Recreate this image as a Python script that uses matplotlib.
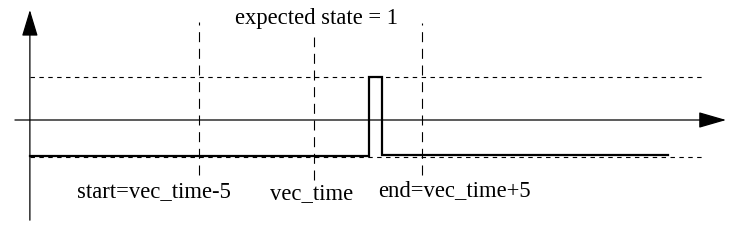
import matplotlib
matplotlib.use("Agg")
import matplotlib.pyplot as plt

plt.rcParams['font.family'] = ['Liberation Serif', 'DejaVu Serif']

# time in units where vec_time = 0, level in state units (1 = expected state)
mark_t = [-5.15, 0.0, 4.85]
mark_top = [2.28, 1.93, 2.26]
mark_bottom = [-1.28, -1.40, -1.28]

signal_t = [-12.74, 2.47, 2.47, 3.05, 3.05, 15.87]
signal_v = [-0.84, -0.84, 1.0, 1.0, -0.81, -0.81]

high_level = 1.0
low_level = -0.86
level_t = [-12.74, 17.5]

labels = ["start=vec_time-5", "vec_time", "end=vec_time+5"]
label_t = [-7.17, -0.11, 6.28]
label_v = [-1.67, -1.70, -1.63]
title_text = "expected state = 1"

fig = plt.figure(figsize=(7.5, 2.44), dpi=100)
ax = fig.add_axes([0, 0, 1, 1])
ax.set_xlim(-14.08, 19.55)
ax.set_ylim(-2.884, 2.791)
ax.axis('off')

# axes with arrow heads
ax.annotate('', xy=(18.48, 0), xytext=(-13.41, 0),
            arrowprops=dict(arrowstyle='-|>,head_length=1.73,head_width=0.5',
                            mutation_scale=10, lw=0.9, color='black',
                            shrinkA=0, shrinkB=0))
ax.annotate('', xy=(-12.74, 2.56), xytext=(-12.74, -2.33),
            arrowprops=dict(arrowstyle='-|>,head_length=1.65,head_width=0.5',
                            mutation_scale=10, lw=0.9, color='black',
                            shrinkA=0, shrinkB=0))

# reference levels
for lv in [high_level, low_level]:
    ax.plot(level_t, [lv, lv], color='black', lw=0.8, linestyle=(0, (4, 4)))

# time markers
for t, top, bot in zip(mark_t, mark_top, mark_bottom):
    ax.plot([t, t], [bot, top], color='black', lw=0.8, linestyle=(0, (9, 6)))

# signal
ax.plot(signal_t, signal_v, color='black', lw=1.6, solid_joinstyle='miter')

for s, t, v in zip(labels, label_t, label_v):
    ax.text(t, v, s, ha='center', va='center', fontsize=16.3)
ax.text(0.13, 2.37, title_text, ha='center', va='center', fontsize=16.3)

fig.savefig('out.png', dpi=100)
